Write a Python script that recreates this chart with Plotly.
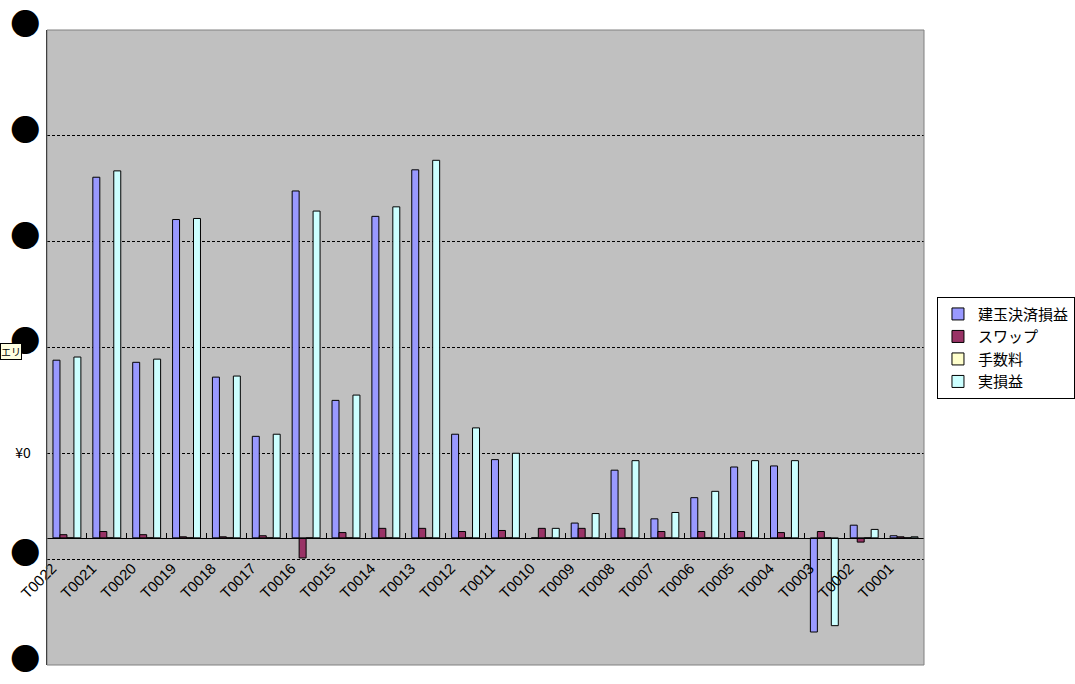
import plotly.graph_objects as go

# trade ids, newest first (as in the sheet)
cats = ["T0022", "T0021", "T0020", "T0019", "T0018", "T0017", "T0016", "T0015",
        "T0014", "T0013", "T0012", "T0011", "T0010", "T0009", "T0008", "T0007",
        "T0006", "T0005", "T0004", "T0003", "T0002", "T0001"]

# yen values
pnl = [168000, 341000, 166000, 301000, 152000, 96000, 328000, 130000,
       304000, 348000, 98000, 74000, 0, 14000, 64000, 18000,
       38000, 67000, 68000, -89000, 12000, 2000]
swap = [3000, 6000, 3000, 1000, 1000, 2000, -19000, 5000,
        9000, 9000, 6000, 7000, 9000, 9000, 9000, 6000,
        6000, 6000, 5000, 6000, -4000, 1000]
fee = [0, 0, 0, 0, 0, 0, 0, 0, 0, 0, 0,
       0, 0, 0, 0, 0, 0, 0, 0, 0, 0, 0]
real = [171000, 347000, 169000, 302000, 153000, 98000, 309000, 135000,
        313000, 357000, 104000, 80000, 9000, 23000, 73000, 24000,
        44000, 73000, 73000, -83000, 8000, 1000]

series_names = ["建玉決済損益", "スワップ", "手数料", "実損益"]
series_colors = ["#9999FF", "#993366", "#FFFFCC", "#CCFFFF"]

# value axis: the labels came out garbled in the original, only ¥0 is readable
blob = "<span style='font-size:30px'>●</span>"
tick_vals = [-120000, -20000, 80000, 180000, 280000, 380000, 480000]
tick_text = [blob, blob, "¥0\u00a0\u00a0\u00a0", blob, blob, blob, blob]

# excel puts the rotated labels a bit left of the category centre
pad = "\u00a0" * 5
cat_text = [c + pad for c in cats]

fig = go.Figure()
for name, vals, col in zip(series_names, [pnl, swap, fee, real], series_colors):
    fig.add_trace(go.Bar(
        x=cats, y=vals, name=name,
        marker=dict(color=col, line=dict(color="black", width=1)),
    ))

fig.update_layout(
    width=1075, height=684, autosize=False,
    margin=dict(l=47, r=151, t=30, b=19, autoexpand=False),
    paper_bgcolor="white", plot_bgcolor="#C0C0C0",
    barmode="group", bargap=0.3, bargroupgap=0,
    font=dict(family="Liberation Sans, Arial", color="black"),
    legend=dict(
        x=1.0148, y=0.580, xanchor="left", yanchor="top",
        bgcolor="white", bordercolor="black", borderwidth=1,
        font=dict(family="Noto Sans CJK JP", size=15, color="black"),
        tracegroupgap=0,
    ),
    xaxis=dict(
        type="category", anchor="free", position=0.2, automargin=False,
        tickmode="array", tickvals=cats, ticktext=cat_text,
        showline=True, linecolor="black", linewidth=1,
        ticks="inside", ticklen=5, tickcolor="black", tickson="boundaries",
        tickangle=-45, tickfont=dict(family="Liberation Sans, Arial", size=15),
        showgrid=False, zeroline=False,
    ),
    yaxis=dict(
        range=[-120200, 480200], automargin=False,
        tickmode="array", tickvals=tick_vals, ticktext=tick_text,
        tickfont=dict(family="Noto Sans CJK JP, DejaVu Sans", size=14),
        ticks="", ticklabelstandoff=3,
        showline=True, linecolor="black", linewidth=1,
        showgrid=True, gridcolor="black", gridwidth=1, griddash="3px,2px",
        zeroline=False,
    ),
    shapes=[
        dict(type="rect", xref="paper", yref="paper", x0=0, x1=1, y0=0, y1=1,
             line=dict(color="#808080", width=1), fillcolor="rgba(0,0,0,0)"),
    ],
    annotations=[
        dict(text="エリ", xref="paper", yref="paper", x=-0.0536, y=0.494,
             xanchor="left", yanchor="middle", showarrow=False,
             font=dict(family="Noto Sans CJK JP", size=10, color="black"),
             bgcolor="#FFFFE1", bordercolor="black", borderwidth=1, borderpad=0),
    ],
)

# drop the browser's default body margin so the chart sits at the page corner
fig.write_html("out.html", config={"displayModeBar": False},
               post_script="document.body.style.margin='0';")
